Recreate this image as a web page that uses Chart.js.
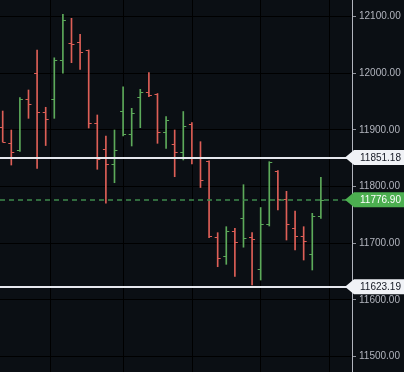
<!DOCTYPE html>
<html>
<head>
<meta charset="utf-8">
<script src="https://cdn.jsdelivr.net/npm/chart.js@4.4.0/dist/chart.umd.min.js"></script>
<style>
  html, body { margin: 0; padding: 0; background: #0b0f14; }
  #wrap { width: 404px; height: 372px; }
</style>
</head>
<body>
<div id="wrap"><canvas id="ohlcChart"></canvas></div>
<script>
// OHLC bars (oldest first)
const opens  = [11905.2, 11876.4, 11865.5, 11954.1, 12001.0, 11931.1, 11954.1, 12023.1, 12054.3, 12054.7,
                12040.2, 11912.3, 11866.0, 11839.6, 11934.3, 11892.0, 11959.0, 11967.5, 11963.8, 11895.8,
                11874.8, 11860.5, 11910.1, 11850.0, 11845.2, 11711.1, 11677.0, 11721.7, 11744.1, 11711.1,
                11654.3, 11733.5, 11828.1, 11777.6, 11726.4, 11713.7, 11680.6, 11747.8];
const highs  = [11933.4, 11899.9, 11956.9, 11970.5, 12041.1, 11940.0, 12027.3, 12104.1, 12097.0, 12068.8,
                12041.1, 11926.4, 11889.3, 11899.9, 11976.3, 11938.2, 11971.7, 12001.4, 11964.3, 11923.4,
                11899.9, 11932.5, 11913.1, 11879.3, 11845.7, 11718.7, 11729.3, 11726.4, 11803.4, 11719.0,
                11763.1, 11844.0, 11828.1, 11791.7, 11757.0, 11729.3, 11752.9, 11816.4];
const lows   = [11878.7, 11838.1, 11862.0, 11920.5, 11832.3, 11872.5, 11920.5, 12000.0, 12018.7, 12007.0,
                11903.4, 11830.6, 11770.6, 11806.9, 11889.3, 11871.7, 11904.0, 11958.7, 11876.4, 11867.6,
                11817.5, 11847.0, 11839.9, 11798.4, 11710.0, 11658.7, 11662.9, 11641.7, 11693.1, 11626.4,
                11635.2, 11730.5, 11758.7, 11705.8, 11688.1, 11670.5, 11652.9, 11744.1];
const closes = [11879.3, 11861.6, 11954.1, 11945.3, 11931.1, 11919.3, 12023.1, 12093.5, 12052.5, 12037.0,
                11911.7, 11848.4, 11839.6, 11864.6, 11892.0, 11930.4, 11967.8, 11961.7, 11896.4, 11916.7,
                11860.5, 11907.0, 11852.3, 11811.1, 11712.0, 11673.5, 11721.1, 11701.9, 11708.8, 11707.9,
                11733.5, 11842.6, 11777.6, 11733.7, 11712.3, 11703.7, 11748.1, 11776.90];

// price axis
const yTicks = [11500, 11600, 11700, 11800, 11900, 12000, 12100];
const yMin = 11472.9, yMax = 12129.3;
// session grid lines (in bar units)
const xGrid = [5.56, 14, 22.1, 30, 37.95];
const xMin = -0.314, xMax = 40.62;

// horizontal levels
const levelValues = [11851.18, 11623.19];
const lastPrice = 11776.90;

const upColor = '#5daa5a';
const downColor = '#de5f57';
const gridColor = '#000000';
const axisText = '#b2b5be';

// TradingView style: colour against previous close
const barColors = closes.map((c, i) => {
  const ref = i === 0 ? opens[0] : closes[i - 1];
  return c >= ref ? upColor : downColor;
});

// open tick left, close tick right
const ohlcTicks = {
  id: 'ohlcTicks',
  afterDatasetsDraw(chart) {
    const { ctx, scales: { x, y } } = chart;
    ctx.save();
    ctx.lineWidth = 1;
    opens.forEach((o, i) => {
      const px = x.getPixelForValue(i);
      ctx.strokeStyle = barColors[i];
      const yo = Math.round(y.getPixelForValue(o)) + 0.5;
      const yc = Math.round(y.getPixelForValue(closes[i])) + 0.5;
      ctx.beginPath();
      ctx.moveTo(px - 3, yo); ctx.lineTo(px, yo);
      ctx.moveTo(px, yc); ctx.lineTo(px + 3, yc);
      ctx.stroke();
    });
    ctx.restore();
  }
};

// support / resistance lines, last price line and their price tags
const levelLines = {
  id: 'levelLines',
  afterDatasetsDraw(chart) {
    const { ctx, chartArea: a, scales: { y } } = chart;
    ctx.save();
    ctx.strokeStyle = '#e6e8ee';
    ctx.lineWidth = 2;
    levelValues.forEach(v => {
      const py = Math.round(y.getPixelForValue(v));
      ctx.beginPath(); ctx.moveTo(a.left, py); ctx.lineTo(a.right, py); ctx.stroke();
    });
    ctx.strokeStyle = '#3f8a4c';
    ctx.lineWidth = 1.5;
    ctx.setLineDash([5, 4]);
    const lp = Math.round(y.getPixelForValue(lastPrice));
    ctx.beginPath(); ctx.moveTo(a.left, lp); ctx.lineTo(a.right, lp); ctx.stroke();
    ctx.restore();
  },
  afterDraw(chart) {
    const { ctx, chartArea: a, scales: { y } } = chart;
    const tag = (v, fill, color) => {
      const py = y.getPixelForValue(v);
      const tip = a.right - 7, bx = a.right + 2, h = 7.5;
      ctx.fillStyle = fill;
      ctx.beginPath();
      ctx.moveTo(tip, py);
      ctx.lineTo(bx, py - h);
      ctx.lineTo(chart.width, py - h);
      ctx.lineTo(chart.width, py + h);
      ctx.lineTo(bx, py + h);
      ctx.closePath();
      ctx.fill();
      ctx.fillStyle = color;
      ctx.font = '10px "Liberation Sans", Arial, sans-serif';
      ctx.textBaseline = 'middle';
      ctx.textAlign = 'left';
      ctx.fillText(v.toFixed(2), a.right + 8, py + 0.5);
    };
    ctx.save();
    levelValues.forEach(v => tag(v, '#f0f2f6', '#131722'));
    tag(lastPrice, '#4caf50', '#ffffff');
    ctx.restore();
  }
};

const ctx = document.getElementById('ohlcChart').getContext('2d');
new Chart(ctx, {
  type: 'bar',
  data: {
    datasets: [{
      data: opens.map((_, i) => ({ x: i, y: [lows[i], highs[i]] })),
      backgroundColor: barColors,
      barThickness: 1,
      borderWidth: 0
    }]
  },
  options: {
    responsive: true,
    maintainAspectRatio: false,
    animation: false,
    layout: { padding: 0 },
    plugins: { legend: { display: false }, tooltip: { enabled: false } },
    scales: {
      x: {
        type: 'linear', min: xMin, max: xMax, offset: false,
        afterBuildTicks: s => { s.ticks = xGrid.map(v => ({ value: v })); },
        afterFit: s => { s.height = 0; s.paddingLeft = 0; s.paddingRight = 0; },
        ticks: { display: false },
        grid: { color: gridColor, drawTicks: false, offset: false },
        border: { display: false }
      },
      y: {
        position: 'right', min: yMin, max: yMax,
        afterBuildTicks: s => { s.ticks = yTicks.map(v => ({ value: v })); },
        afterFit: s => { s.width = 52; s.paddingTop = 0; s.paddingBottom = 0; },
        ticks: {
          color: axisText, padding: 3,
          font: { family: '"Liberation Sans", Arial, sans-serif', size: 10 },
          callback: v => v.toFixed(2)
        },
        grid: { color: gridColor, tickColor: '#8f939c', tickLength: 4 },
        border: { color: '#b2b5be', width: 1 }
      }
    }
  },
  plugins: [ohlcTicks, levelLines]
});
</script>
</body>
</html>
